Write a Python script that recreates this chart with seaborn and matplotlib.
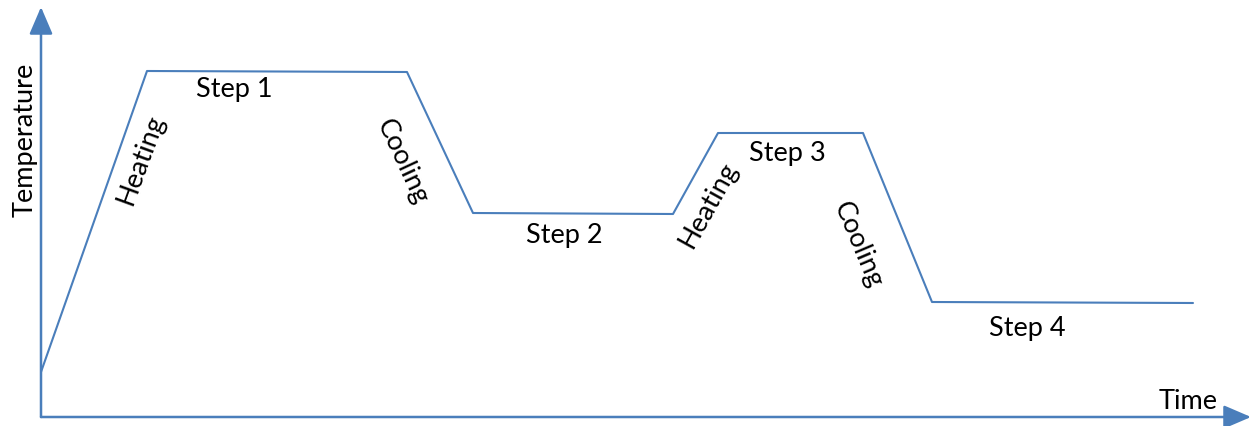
import matplotlib
matplotlib.use("Agg")
import matplotlib.pyplot as plt
import seaborn as sns
import pandas as pd

# Temperature profile (arbitrary units)
time = [0, 106, 366, 432, 632, 677, 822, 891, 1152]
temperature = [45, 346, 345, 204, 203, 284, 284, 115, 114]

step_labels = ["Step 1", "Step 2", "Step 3", "Step 4"]
step_pos = [(193, 328), (523, 182), (746, 265), (986, 89)]
ramp_labels = ["Heating", "Cooling", "Heating", "Cooling"]
ramp_pos = [(100, 258), (361, 256), (667, 213), (817, 173)]
ramp_rot = [70, -65, 61, -67]

sns.set_theme(style="white")
plt.rcParams['font.family'] = ['Lato', 'DejaVu Sans']

color = "#4A7EBB"
fig = plt.figure(figsize=(12.53, 4.27), dpi=100)
ax = fig.add_axes([0, 0, 1, 1])
df = pd.DataFrame({"Time": time, "Temperature": temperature})
sns.lineplot(data=df, x="Time", y="Temperature", ax=ax, color=color, lw=1.5, sort=False)

ax.set_xlim(-41, 1212)
ax.set_ylim(-9, 418)
ax.axis("off")

# axes arrows
ax.annotate("", xy=(1210, 0), xytext=(0, 0),
            arrowprops=dict(arrowstyle="-|>,head_length=1.4,head_width=0.6", color=color, lw=1.8, shrinkA=0, shrinkB=0))
ax.annotate("", xy=(0, 410), xytext=(0, 0),
            arrowprops=dict(arrowstyle="-|>,head_length=1.4,head_width=0.6", color=color, lw=1.8, shrinkA=0, shrinkB=0))

fs = 19.5
for lab, (x, y) in zip(step_labels, step_pos):
    ax.text(x, y, lab, fontsize=fs, ha="center", va="center", color="black")
for lab, (x, y), r in zip(ramp_labels, ramp_pos, ramp_rot):
    ax.text(x, y, lab, fontsize=fs, ha="center", va="center", rotation=r,
            rotation_mode="anchor", color="black")

ax.text(1147, 16, "Time", fontsize=fs, ha="center", va="center", color="black")
ax.text(-16, 278, "Temperature", fontsize=fs, ha="center", va="center", rotation=90, color="black")

fig.savefig("out.png", dpi=100)
